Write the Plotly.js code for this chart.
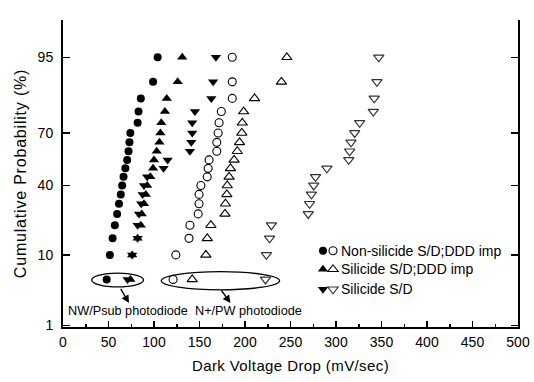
<!DOCTYPE html>
<html>
<head>
<meta charset="utf-8">
<script src="https://cdn.plot.ly/plotly-3.0.1.min.js"></script>
<style>
html,body{margin:0;padding:0;background:#fff;}
#chart{width:534px;height:382px;}
#chart .ytitle{letter-spacing:0.8px;}
#chart .xtitle{letter-spacing:0.4px;}
</style>
</head>
<body>
<div id="chart"></div>
<script>
// ---- data (cumulative probability in %, dark voltage drop in mV/sec) ----
const probLevels = [95, 90, 85, 80, 75, 70, 65, 60, 55, 50, 45, 40, 35, 30, 25, 20, 15, 10, 5];

// NW/Psub photodiode (filled symbols)
const nonSilicideDDD_NW = [104, 99, 85.5, 83, 82, 74, 73, 72, 70.5, 68.5, 66.5, 65, 63.5, 61.5, 59.5, 57, 54.5, 51.5, 48];
const silicideDDD_NW    = [131, 126, 114, 112, 108, 107, 106, 103, 100, 99, 96, 92.5, 91, 89, 86.5, 85.5, 82, 76, 74];
const silicideSD_NW     = [168, 165, 163, 145, 142, 142, 141, 139.5, 115, 110.5, 92.5, 89, 87.5, 86, 83.5, 82, 82, 76, 71];

// N+/PW photodiode (open symbols)
const nonSilicideDDD_NP = [186, 186, 186, 174, 171.5, 170.5, 169, 169, 160.5, 159.5, 158.5, 151.5, 149.5, 149.5, 148.5, 139.5, 138.5, 124, 121];
const silicideDDD_NP    = [246, 240, 210.5, 198.5, 197, 196.5, 194, 191.5, 188, 184, 182.5, 180.5, 180, 178.5, 178, 162.5, 158.5, 157, 142];
const silicideSD_NP     = [347, 345, 342, 341, 326, 320.5, 316.5, 315, 314, 290, 277.5, 275.5, 273, 271, 269.5, 229, 227, 223.5, 222.5];

const seriesNames = ['Non-silicide S/D;DDD imp', 'Silicide S/D;DDD imp', 'Silicide S/D'];
const groupLabels = ['NW/Psub photodiode', 'N+/PW photodiode'];
const yTickLabels = [1, 10, 40, 70, 95];
const xTickStep = 50;

// ---- normal probability scale (inverse normal CDF) ----
function normInv(p) {
  const a = [-3.969683028665376e+01, 2.209460984245205e+02, -2.759285104469687e+02, 1.383577518672690e+02, -3.066479806614716e+01, 2.506628277459239e+00];
  const b = [-5.447609879822406e+01, 1.615858368580409e+02, -1.556989798598866e+02, 6.680131188771972e+01, -1.328068155288572e+01];
  const c = [-7.784894002430293e-03, -3.223964580411365e-01, -2.400758277161838e+00, -2.549732539343734e+00, 4.374664141464968e+00, 2.938163982698783e+00];
  const d = [7.784695709041462e-03, 3.224671290700398e-01, 2.445134137142996e+00, 3.754408661907416e+00];
  const pl = 0.02425, ph = 1 - pl;
  let q, r;
  if (p < pl) {
    q = Math.sqrt(-2 * Math.log(p));
    return (((((c[0]*q+c[1])*q+c[2])*q+c[3])*q+c[4])*q+c[5]) / ((((d[0]*q+d[1])*q+d[2])*q+d[3])*q+1);
  }
  if (p <= ph) {
    q = p - 0.5; r = q * q;
    return (((((a[0]*r+a[1])*r+a[2])*r+a[3])*r+a[4])*r+a[5])*q / (((((b[0]*r+b[1])*r+b[2])*r+b[3])*r+b[4])*r+1);
  }
  q = Math.sqrt(-2 * Math.log(1 - p));
  return -(((((c[0]*q+c[1])*q+c[2])*q+c[3])*q+c[4])*q+c[5]) / ((((d[0]*q+d[1])*q+d[2])*q+d[3])*q+1);
}
const probit = pct => normInv(pct / 100);
const yVals = probLevels.map(probit);

const FONT = 'Arial, "Liberation Sans", Helvetica, sans-serif';

function series(x, name, symbol, size, color, lw) {
  return {
    type: 'scatter', mode: 'markers', name: name, x: x, y: yVals,
    showlegend: false, hoverinfo: 'skip',
    marker: {symbol: symbol, size: size, color: color, line: {width: lw, color: color}}
  };
}

const data = [
  series(silicideSD_NW, seriesNames[2] + ' (' + groupLabels[0] + ')', 'triangle-down', 9, '#000', 0),
  series(silicideDDD_NW, seriesNames[1] + ' (' + groupLabels[0] + ')', 'triangle-up', 9, '#000', 0),
  series(nonSilicideDDD_NW, seriesNames[0] + ' (' + groupLabels[0] + ')', 'circle', 8, '#000', 0),
  series(nonSilicideDDD_NP, seriesNames[0] + ' (' + groupLabels[1] + ')', 'circle-open', 8, '#000', 1.1),
  series(silicideDDD_NP, seriesNames[1] + ' (' + groupLabels[1] + ')', 'triangle-up-open', 9, '#000', 1.1),
  series(silicideSD_NP, seriesNames[2] + ' (' + groupLabels[1] + ')', 'triangle-down-open', 9, '#333', 1.2)
];

// ---- legend (keys drawn as pixel-sized shapes, labels as annotations) ----
const legendRowsY = [0.2485, 0.188, 0.1228];
const legendFilledX = 0.5714;
const legendOpenX = 0.5934;
const legendTextX = 0.607;

const annotations = seriesNames.map((s, i) => ({
  xref: 'paper', yref: 'paper', x: legendTextX, y: legendRowsY[i],
  xanchor: 'left', yanchor: 'middle', text: s, showarrow: false,
  font: {family: FONT, size: 14, color: '#000'}
}));
annotations.push(
  {xref: 'x', yref: 'y', x: 71.5, y: probit(1.75), text: groupLabels[0], showarrow: false,
   xanchor: 'center', yanchor: 'middle', font: {family: FONT, size: 12.7, color: '#000'}},
  {xref: 'x', yref: 'y', x: 204, y: probit(1.75), text: groupLabels[1], showarrow: false,
   xanchor: 'center', yanchor: 'middle', font: {family: FONT, size: 12.7, color: '#000'}},
  {xref: 'x', yref: 'y', axref: 'x', ayref: 'y', x: 72.5, y: probit(2.3), ax: 62.5, ay: probit(3.9),
   text: '', showarrow: true, arrowhead: 2, arrowsize: 1.2, arrowwidth: 1.3, arrowcolor: '#000'},
  {xref: 'x', yref: 'y', axref: 'x', ayref: 'y', x: 184, y: probit(2.3), ax: 173, ay: probit(3.7),
   text: '', showarrow: true, arrowhead: 2, arrowsize: 1.2, arrowwidth: 1.3, arrowcolor: '#000'}
);

const shapes = [
  {type: 'circle', xref: 'x', yref: 'y', x0: 31.5, x1: 88.5, y0: probit(3.95), y1: probit(6.05),
   line: {color: '#000', width: 1.3}},
  {type: 'circle', xref: 'x', yref: 'y', x0: 108, x1: 238, y0: probit(3.6), y1: probit(6.3),
   line: {color: '#000', width: 1.3}}
];

const TRI_UP = 'M-5.2,-2.25L5.2,-2.25L0,4.5Z';
const TRI_DOWN = 'M-5.2,2.25L5.2,2.25L0,-4.5Z';
function keyShape(kind, xa, ya, filled, color) {
  const base = {xref: 'paper', yref: 'paper', xsizemode: 'pixel', ysizemode: 'pixel',
                xanchor: xa, yanchor: ya, layer: 'above',
                line: {color: color, width: filled ? 0 : 1.1},
                fillcolor: filled ? color : 'rgba(0,0,0,0)'};
  if (kind === 'circle') return Object.assign(base, {type: 'circle', x0: -4, x1: 4, y0: -4, y1: 4});
  return Object.assign(base, {type: 'path', path: kind === 'up' ? TRI_UP : TRI_DOWN});
}
const keyKinds = ['circle', 'up', 'down'];
keyKinds.forEach((k, i) => {
  shapes.push(keyShape(k, legendFilledX, legendRowsY[i], true, '#000'));
  shapes.push(keyShape(k, legendOpenX, legendRowsY[i], false, i === 2 ? '#333' : '#000'));
});

const layout = {
  width: 534, height: 382,
  margin: {l: 63, r: 16, t: 20, b: 55, pad: 0},
  paper_bgcolor: '#fff', plot_bgcolor: '#fff',
  font: {family: FONT, size: 14, color: '#000'},
  showlegend: false,
  xaxis: {
    range: [0, 500], tick0: 0, dtick: xTickStep,
    ticks: 'inside', ticklen: 6, tickwidth: 1.5, tickcolor: '#000',
    minor: {dtick: xTickStep / 2, ticks: 'inside', ticklen: 3, tickwidth: 1.5, tickcolor: '#000'},
    showline: true, linewidth: 2, linecolor: '#000', mirror: false,
    showgrid: false, zeroline: false, ticklabelstandoff: 1,
    tickfont: {family: FONT, size: 14},
    title: {text: 'Dark Voltage Drop (mV/sec)', font: {family: FONT, size: 15}, standoff: 12}
  },
  yaxis: {
    range: [probit(0.94), probit(98.6)],
    tickvals: yTickLabels.map(probit), ticktext: yTickLabels.map(String),
    ticks: 'inside', ticklen: 7, tickwidth: 1.5, tickcolor: '#000',
    showline: true, linewidth: 2, linecolor: '#000', mirror: 'ticks',
    showgrid: false, zeroline: false, ticklabelstandoff: 5,
    tickfont: {family: FONT, size: 14},
    title: {text: 'Cumulative Probability (%)', font: {family: FONT, size: 16}, standoff: 7}
  },
  annotations: annotations,
  shapes: shapes
};

Plotly.newPlot('chart', data, layout, {displayModeBar: false, staticPlot: true});
</script>
</body>
</html>
